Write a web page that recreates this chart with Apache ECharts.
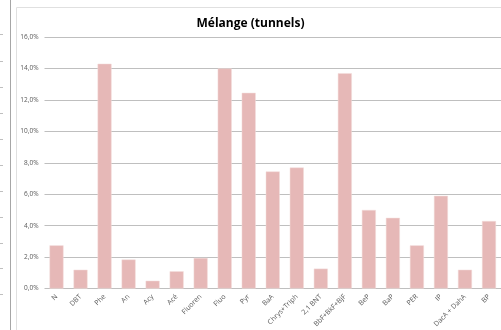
<!DOCTYPE html>
<html>
<head>
<meta charset="utf-8">
<script src="https://cdn.jsdelivr.net/npm/echarts@6/dist/echarts.min.js"></script>
<style>html,body{margin:0;padding:0;background:#fff}#c{width:501px;height:330px}</style>
</head>
<body>
<div id="c"></div>
<script>
var categories = ["N","DBT","Phe","An","Acy","Acé","Fluoren","Fluo","Pyr","BaA","Chrys+Triph","2,1 BNT","BbF+BkF+BjF","BeP","BaP","PER","IP","DacA + DahA","BP"];
var values = [2.75, 1.2, 14.3, 1.85, 0.5, 1.1, 1.95, 14.0, 12.45, 7.45, 7.7, 1.27, 13.7, 5.0, 4.5, 2.75, 5.9, 1.2, 4.3];
var yTicks = [0, 2, 4, 6, 8, 10, 12, 14, 16];
var title = "Mélange (tunnels)";
var neighbourStubs = [34, 61, 87, 113, 139, 165, 191, 217, 243, 268, 294];

var chart = echarts.init(document.getElementById('c'));
var graphics = [
  {type:'line', shape:{x1:10.5,y1:0,x2:10.5,y2:330}, style:{stroke:'#a6a6a6',lineWidth:1}, silent:true},
  {type:'line', shape:{x1:16.5,y1:7.5,x2:16.5,y2:330}, style:{stroke:'#e0e0e0',lineWidth:1}, silent:true},
  {type:'line', shape:{x1:16.5,y1:7.5,x2:501,y2:7.5}, style:{stroke:'#e0e0e0',lineWidth:1}, silent:true}
];
neighbourStubs.forEach(function(y){
  graphics.push({type:'line', shape:{x1:0,y1:y+0.5,x2:3,y2:y+0.5}, style:{stroke:'#bfbfbf',lineWidth:1}, silent:true});
});
chart.setOption({
  animation:false,
  title:{text:title, left:'center', top:13, textStyle:{fontFamily:'Open Sans', fontWeight:'bold', fontSize:12, color:'#000'}},
  graphic: graphics,
  grid:{left:44.5, right:-9, top:37, bottom:35, containLabel:false},
  xAxis:{type:'category', data:categories,
    axisLine:{show:false}, axisTick:{show:false},
    axisLabel:{rotate:45, interval:0, fontSize:7, fontFamily:'Open Sans', color:'#595959', margin:7}},
  yAxis:{type:'value', min:yTicks[0], max:yTicks[yTicks.length-1], interval:2,
    axisLabel:{fontSize:6.5, fontFamily:'Open Sans', color:'#595959', margin:6,
      formatter:function(v){return v.toFixed(1).replace('.', ',') + '%';}},
    splitLine:{lineStyle:{color:'#bfbfbf', width:1}}},
  series:[{type:'bar', data:values, barWidth:14,
    itemStyle:{color:'#e6b8b7', borderColor:'#f2dcdb', borderWidth:0.5}}]
});
</script>
</body>
</html>
